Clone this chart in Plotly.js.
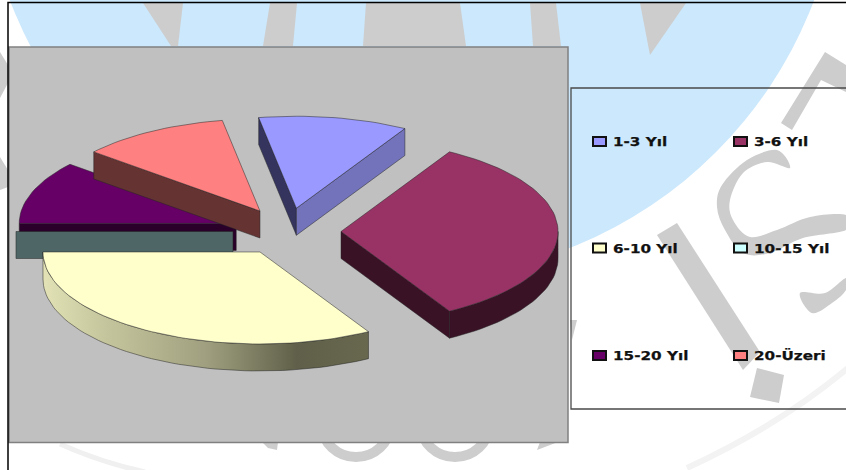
<!DOCTYPE html>
<html>
<head>
<meta charset="utf-8">
<script src="https://cdn.plot.ly/plotly-3.0.1.min.js"></script>
<style>
  html, body { margin: 0; padding: 0; background: #fff; }
  #chart { width: 846px; height: 470px; }
  .annotation-text { stroke: #111; stroke-width: 0.25px; }
</style>
</head>
<body>
<div id="chart"></div>
<script>
// Years-of-service groups and their shares
const categories = ['1-3 Yıl', '3-6 Yıl', '6-10 Yıl', '10-15 Yıl', '15-20 Yıl', '20-Üzeri'];
const values = [1, 3, 3, 0, 1, 1];

// Slice faces and their shaded side walls
const topColors = ['#9999FF', '#993366', '#FFFFCC', '#CCFFFF', '#660066', '#FF8080'];
const startWallColors = ['#34345F', '#3A1226', '#66664F', '#4F6666', '#2A002A', '#663333'];
const endWallColors = ['#7373BB', '#3A1226', '#66664F', '#4F6666', '#2A002A', '#663333'];
const outerWallColors = ['#7373BB', '#3A1226', '#66664F', '#4F6666', '#2A002A', '#663333'];
const paintOrder = [0, 4, 5, 3, 1, 2];

// Projection of the tilted pie on the page
const pie = { cx: 287, cy: 231.5, rx: 217, ry: 92, depth: 27, explodeX: 0.249, explodeY: 0.257, firstAngle: -10 };

const rad = d => d * Math.PI / 180;
const project = (t, r, ox, oy) => [ox + r * pie.rx * Math.sin(rad(t)), oy - r * pie.ry * Math.cos(rad(t))];
const total = values.reduce((a, b) => a + b, 0);

function arc(t0, t1, ox, oy, dy) {
  const pts = [];
  const n = Math.max(2, Math.ceil(Math.abs(t1 - t0) / 2));
  for (let i = 0; i <= n; i++) {
    const p = project(t0 + (t1 - t0) * i / n, 1, ox, oy);
    pts.push([p[0], p[1] + dy]);
  }
  return pts;
}

function poly(pts, fill, extra) {
  const closed = pts.concat([pts[0]]);
  return Object.assign({
    type: 'scatter', mode: 'lines', x: closed.map(p => p[0]), y: closed.map(p => p[1]),
    fill: 'toself', fillcolor: fill, line: { color: 'rgba(35,35,35,0.7)', width: 0.7 },
    hoverinfo: 'skip', showlegend: false
  }, extra || {});
}

// Angular span of each slice, accumulated from the values
let cursor = pie.firstAngle;
const spans = values.map(v => {
  const s = [cursor, cursor + v / total * 360];
  cursor = s[1];
  return s;
});

const traces = [];
paintOrder.forEach(i => {
  const [t0, t1] = spans[i];
  const mid = (t0 + t1) / 2;
  const ox = pie.cx + pie.explodeX * pie.rx * Math.sin(rad(mid));
  const oy = pie.cy - pie.explodeY * pie.ry * Math.cos(rad(mid));
  const h = pie.depth;
  const wall = (t, color) => {
    const e = project(t, 1, ox, oy);
    traces.push(poly([[ox, oy], e, [e[0], e[1] + h], [ox, oy + h]], color));
  };
  if (Math.sin(rad(t0)) < -1e-6) wall(t0, startWallColors[i]);
  if (Math.sin(rad(t1)) > 1e-6) wall(t1, endWallColors[i]);
  const a = Math.max(t0, 90), b = Math.min(t1, 270);
  if (b > a) {
    const pts = arc(a, b, ox, oy, 0).concat(arc(b, a, ox, oy, h));
    // The large front slice catches the light from the left
    const shaded = categories[i] === '6-10 Yıl' ? {
      fillgradient: {
        type: 'horizontal',
        colorscale: [[0, '#E2E2B6'], [0.2, '#C4C49C'], [0.5, '#A0A080'], [0.78, '#60604A'], [1, '#68684F']]
      }
    } : {};
    traces.push(poly(pts, outerWallColors[i], shaded));
  }
  if (t1 > t0) traces.push(poly([[ox, oy]].concat(arc(t0, t1, ox, oy, 0)), topColors[i]));
});

// Smooth closed outline through a few points, for the backdrop lettering
function smooth(pts) {
  let d = 'M' + pts[0].join(' ');
  const n = pts.length;
  for (let i = 0; i < n; i++) {
    const p0 = pts[(i - 1 + n) % n], p1 = pts[i], p2 = pts[(i + 1) % n], p3 = pts[(i + 2) % n];
    const c1 = [p1[0] + (p2[0] - p0[0]) / 6, p1[1] + (p2[1] - p0[1]) / 6];
    const c2 = [p2[0] - (p3[0] - p1[0]) / 6, p2[1] - (p3[1] - p1[1]) / 6];
    d += ' C' + c1.join(' ') + ' ' + c2.join(' ') + ' ' + p2.join(' ');
  }
  return d + ' Z';
}
const straight = pts => 'M' + pts.map(p => p.join(' ')).join(' L') + ' Z';

const seal = '#CDCDCD';
const bgPath = (path, fill) => ({ type: 'path', path, fillcolor: fill, line: { width: 0 }, layer: 'below', xref: 'x', yref: 'y' });
const shapes = [
  // Pale blue disc of the seal
  { type: 'circle', x0: 412 - 430, x1: 412 + 430, y0: -152 - 430, y1: -152 + 430, fillcolor: '#CCE8FC', line: { width: 0 }, layer: 'below' },
  // Seal lettering
  bgPath(straight([[143, 3], [183, 3], [178, 46], [171, 46]]), seal),
  bgPath(straight([[270, 3], [297, 3], [293, 46], [263, 46]]), seal),
  bgPath(straight([[366, 3], [460, 3], [466, 46], [363, 46]]), seal),
  bgPath(straight([[530, 3], [556, 3], [561, 46], [533, 46]]), seal),
  bgPath(straight([[640, 3], [686, 3], [650, 55]]), seal),
  bgPath(straight([[0, 52], [8, 65], [8, 83], [0, 98]]), seal),
  bgPath(straight([[0, 157], [8, 170], [8, 187], [0, 190]]), seal),
  bgPath(straight([[825, 52], [846, 65], [846, 92], [821, 80], [792, 130], [781, 123]]), seal),
  bgPath(smooth([[777, 150], [747, 160], [722, 185], [717, 207], [725, 230], [743, 253], [770, 253], [803, 238], [846, 230],
    [846, 215], [810, 217], [777, 230], [750, 237], [733, 220], [730, 200], [743, 173], [767, 162], [790, 168]]), seal),
  bgPath(straight([[677, 223], [760, 352], [743, 370], [657, 235]]), seal),
  bgPath(straight([[757, 368], [784, 375], [779, 403], [750, 397]]), seal),
  bgPath(smooth([[800, 293], [812, 313], [832, 303], [846, 290], [846, 278], [825, 293]]), seal),
  bgPath(straight([[570, 320], [577, 320], [572, 340]]), seal),
  bgPath(straight([[262, 442], [278, 442], [277, 450], [268, 448]]), seal),
  bgPath(straight([[537, 450], [558, 442], [540, 442]]), seal),
  { type: 'circle', x0: 322, x1: 390, y0: 393, y1: 457, fillcolor: 'rgba(0,0,0,0)', line: { color: seal, width: 10 }, layer: 'below' },
  { type: 'circle', x0: 421, x1: 489, y0: 393, y1: 457, fillcolor: 'rgba(0,0,0,0)', line: { color: seal, width: 10 }, layer: 'below' },
  { type: 'path', path: 'M60 444 Q100 462 145 472', fillcolor: 'rgba(0,0,0,0)', line: { color: '#F0F0F0', width: 5 }, layer: 'below' },
  { type: 'path', path: 'M687 468 Q780 425 848 368', fillcolor: 'rgba(0,0,0,0)', line: { color: '#F3F3F3', width: 6 }, layer: 'below' },
  // Chart frame, plot backdrop and legend box
  { type: 'rect', x0: 9, x1: 568, y0: 47, y1: 442.5, fillcolor: '#C0C0C0', line: { color: '#808080', width: 1.5 }, layer: 'below' },
  { type: 'rect', x0: 571, x1: 852, y0: 88, y1: 409, fillcolor: 'rgba(0,0,0,0)', line: { color: '#4A4A4A', width: 1.3 }, layer: 'below' },
  { type: 'path', path: 'M8 472 L8 2.5 L848 2.5', fillcolor: 'rgba(0,0,0,0)', line: { color: '#000', width: 1.5 }, layer: 'below' }
];

// Two-column legend beside the plot
const legendX = [593, 734];
const legendY = [141.5, 248, 355.5];
const annotations = [];
categories.forEach((c, i) => {
  const x = legendX[i % 2], y = legendY[Math.floor(i / 2)];
  shapes.push({ type: 'rect', x0: x, x1: x + 13, y0: y - 4.5, y1: y + 4.5, fillcolor: topColors[i], line: { color: '#111', width: 2 } });
  annotations.push({
    x: x + 17.5, y, xref: 'x', yref: 'y', text: c, showarrow: false, xanchor: 'left', yanchor: 'middle',
    font: { family: '"DejaVu Sans"', size: 13, color: '#111', weight: 700 }
  });
});

Plotly.newPlot('chart', traces, {
  width: 846, height: 470,
  margin: { l: 0, r: 0, t: 0, b: 0, pad: 0 },
  paper_bgcolor: '#fff', plot_bgcolor: 'rgba(0,0,0,0)',
  xaxis: { range: [0, 846], visible: false, fixedrange: true },
  yaxis: { range: [470, 0], visible: false, fixedrange: true },
  showlegend: false, shapes, annotations
}, { staticPlot: true }).then(gd => {
  // The legend type runs slightly wide
  gd.querySelectorAll('.annotation-text').forEach(t => {
    const w = t.getComputedTextLength();
    t.setAttribute('textLength', (w * 1.17).toFixed(1));
    t.setAttribute('lengthAdjust', 'spacingAndGlyphs');
    t.setAttribute('dx', (w * 0.085).toFixed(1));
  });
});
</script>
</body>
</html>
